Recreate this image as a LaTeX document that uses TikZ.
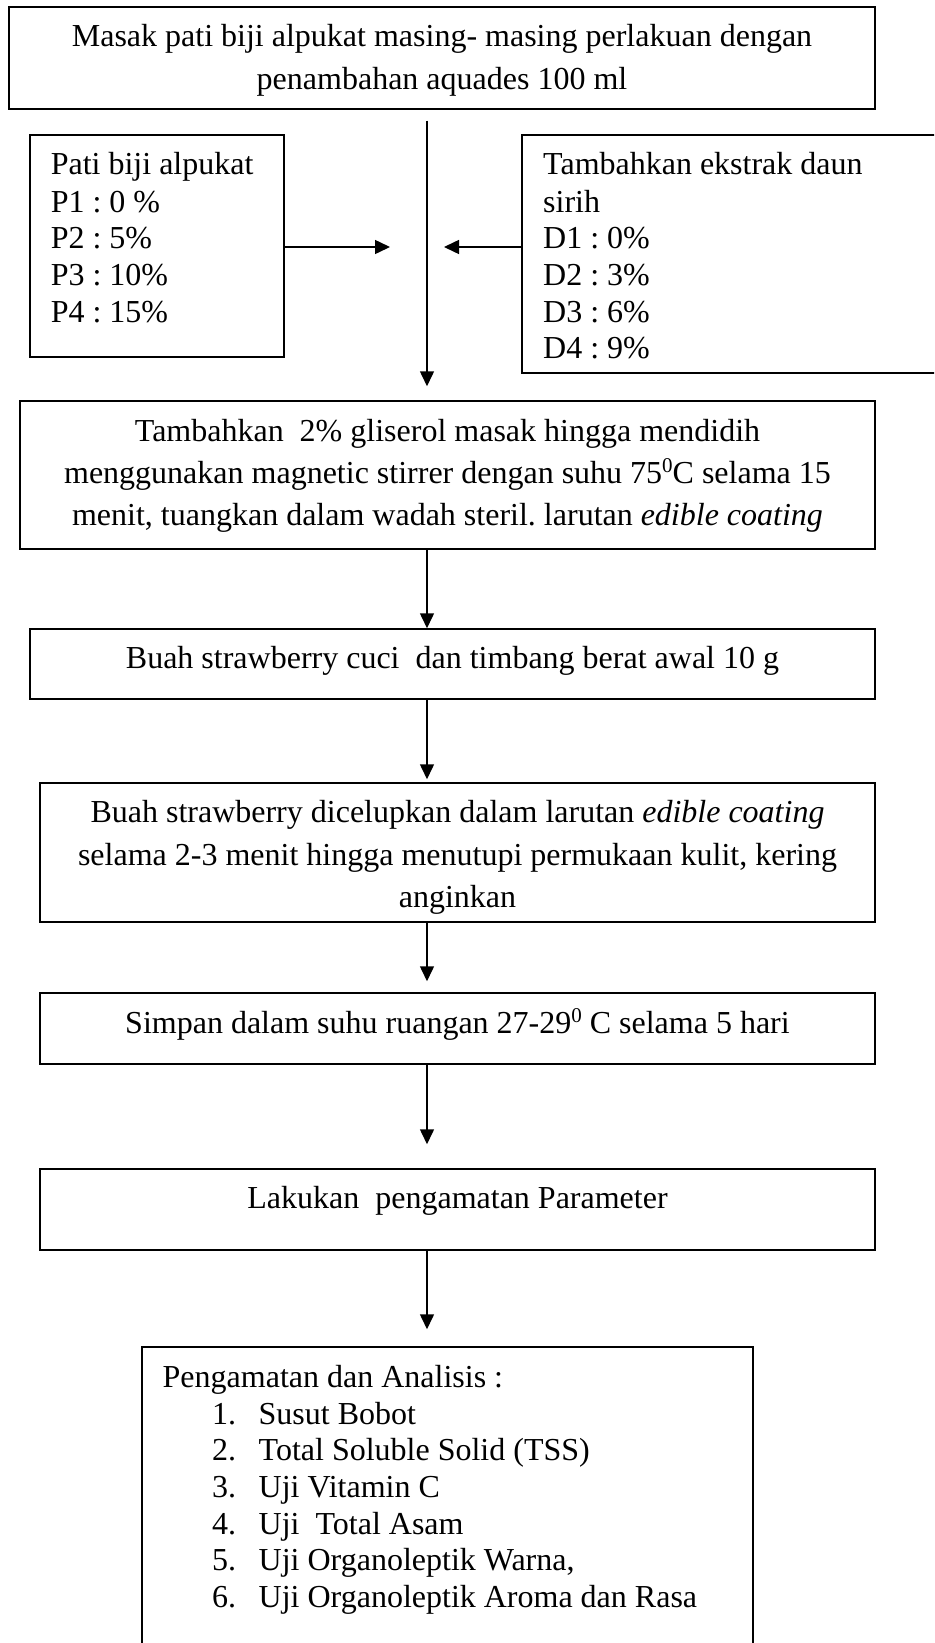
\documentclass[tikz,border=0pt]{standalone}
\usepackage{fontspec}
\setmainfont{Liberation Serif}
\usetikzlibrary{arrows.meta}
\frenchspacing
\newcommand\degsup{\raisebox{10.5pt}{\fontsize{21}{21}\selectfont 0}}
\begin{document}
\begin{tikzpicture}[x=1pt,y=-1pt,
  box/.style={draw, line width=1.5pt, rectangle, inner sep=0pt},
  txt/.style={inner sep=0pt, font=\fontsize{32}{38}\selectfont},
  arr/.style={line width=1.5pt, -{Triangle[length=15pt,width=14pt]}}]
\useasboundingbox (0,0) rectangle (934,1643);
\fill[white] (0,0) rectangle (934,1643);
\clip (0,0) rectangle (934,1643);

% boxes
\node[box, minimum width=866pt, minimum height=102pt] (b1) at (442,58) {};
\node[box, minimum width=254pt, minimum height=222pt] (bL) at (157,246) {};
\node[box, minimum width=478pt, minimum height=238pt] (bR) at (761,254) {};
\node[box, minimum width=855pt, minimum height=148pt] (b3) at (447.5,475) {};
\node[box, minimum width=845pt, minimum height=70pt] (b4) at (452.5,664) {};
\node[box, minimum width=835pt, minimum height=139pt] (b5) at (457.5,852.5) {};
\node[box, minimum width=835pt, minimum height=71pt] (b6) at (457.5,1028.5) {};
\node[box, minimum width=835pt, minimum height=81pt] (b7) at (457.5,1209.5) {};
\node[box, minimum width=611pt, minimum height=333pt] (b8) at (447.5,1513.5) {};

% texts
\node[txt, anchor=base] (t1a) at (442,47) {Masak pati biji alpukat masing- masing perlakuan dengan};
\node[txt, anchor=base] (t1b) at (442,89.5) {penambahan aquades 100 ml};

\node[txt, anchor=base west] (tL1) at (50.6,175) {Pati biji alpukat};
\node[txt, anchor=base west] (tL2) at (50.6,212) {P1 : 0 \%};
\node[txt, anchor=base west] (tL3) at (50.6,248) {P2 : 5\%};
\node[txt, anchor=base west] (tL4) at (50.6,285) {P3 : 10\%};
\node[txt, anchor=base west] (tL5) at (50.6,322) {P4 : 15\%};

\node[txt, anchor=base west] (tR1) at (543,175) {Tambahkan ekstrak daun};
\node[txt, anchor=base west] (tR2) at (543,212) {sirih};
\node[txt, anchor=base west] (tR3) at (543,248) {D1 : 0\%};
\node[txt, anchor=base west] (tR4) at (543,285) {D2 : 3\%};
\node[txt, anchor=base west] (tR5) at (543,322) {D3 : 6\%};
\node[txt, anchor=base west] (tR6) at (543,358) {D4 : 9\%};

\node[txt, anchor=base] (t3a) at (447.5,441) {Tambahkan\ \ 2\% gliserol masak hingga mendidih};
\node[txt, anchor=base] (t3b) at (447.5,483) {menggunakan magnetic stirrer dengan suhu 75\degsup C selama 15};
\node[txt, anchor=base] (t3c) at (447.5,525) {menit, tuangkan dalam wadah steril. larutan \textit{edible coating}};

\node[txt, anchor=base] (t4) at (452.5,668) {Buah strawberry cuci\ \ dan timbang berat awal 10 g};

\node[txt, anchor=base] (t5a) at (457.5,822) {Buah strawberry dicelupkan dalam larutan \textit{edible coating}};
\node[txt, anchor=base] (t5b) at (457.5,865) {selama 2-3 menit hingga menutupi permukaan kulit, kering};
\node[txt, anchor=base] (t5c) at (457.5,907) {anginkan};

\node[txt, anchor=base] (t6) at (457.5,1033) {Simpan dalam suhu ruangan 27-29\degsup\ C selama 5 hari};

\node[txt, anchor=base] (t7) at (457.5,1208) {Lakukan\ \ pengamatan Parameter};

\node[txt, anchor=base west] (t8h) at (162.5,1387) {Pengamatan dan Analisis :};
\node[txt, anchor=base west] (t81) at (212,1424) {\makebox[46.5pt][l]{1.}Susut Bobot};
\node[txt, anchor=base west] (t82) at (212,1460.5) {\makebox[46.5pt][l]{2.}Total Soluble Solid (TSS)};
\node[txt, anchor=base west] (t83) at (212,1497) {\makebox[46.5pt][l]{3.}Uji Vitamin C};
\node[txt, anchor=base west] (t84) at (212,1534) {\makebox[46.5pt][l]{4.}Uji\ \ Total Asam};
\node[txt, anchor=base west] (t85) at (212,1570) {\makebox[46.5pt][l]{5.}Uji Organoleptik Warna,};
\node[txt, anchor=base west] (t86) at (212,1607) {\makebox[46.5pt][l]{6.}Uji Organoleptik Aroma dan Rasa};

% connectors
\coordinate (v) at (427,0);
\coordinate (mL) at (390,247);
\coordinate (mR) at (444,247);
\draw[arr] ([yshift=-11pt]b1.south -| v) -- ([yshift=14pt]b3.north -| v);
\draw[arr] (bL.east |- mL) -- (mL);
\draw[arr] (bR.west |- mR) -- (mR);
\draw[arr] (b3.south -| v) -- (b4.north -| v);
\draw[arr] (b4.south -| v) -- ([yshift=3pt]b5.north -| v);
\draw[arr] (b5.south -| v) -- ([yshift=11pt]b6.north -| v);
\draw[arr] (b6.south -| v) -- ([yshift=24pt]b7.north -| v);
\draw[arr] (b7.south -| v) -- ([yshift=17pt]b8.north -| v);
\end{tikzpicture}
\end{document}
